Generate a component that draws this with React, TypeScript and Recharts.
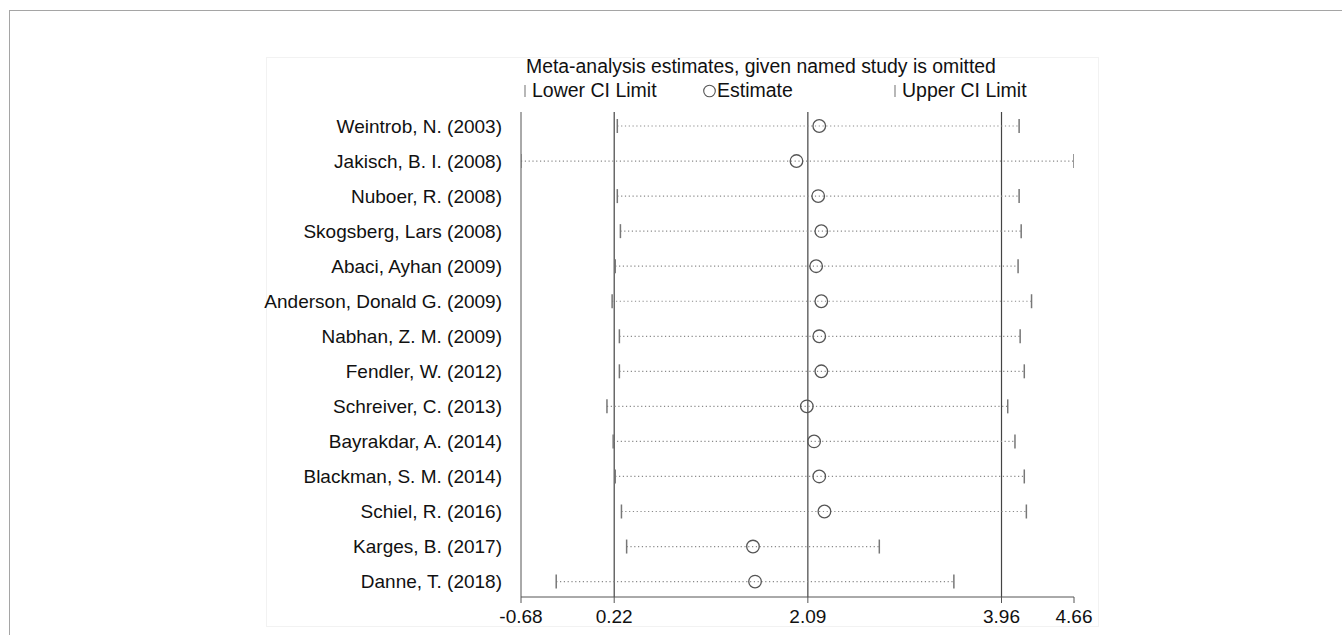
import { Legend, ReferenceLine, Scatter, ScatterChart, XAxis, YAxis } from "recharts";

const studies = [
  "Weintrob, N. (2003)",
  "Jakisch, B. I. (2008)",
  "Nuboer, R. (2008)",
  "Skogsberg, Lars (2008)",
  "Abaci, Ayhan (2009)",
  "Anderson, Donald G. (2009)",
  "Nabhan, Z. M. (2009)",
  "Fendler, W. (2012)",
  "Schreiver, C. (2013)",
  "Bayrakdar, A. (2014)",
  "Blackman, S. M. (2014)",
  "Schiel, R. (2016)",
  "Karges, B. (2017)",
  "Danne, T. (2018)",
];
const lowerCI = [0.25, -0.68, 0.25, 0.28, 0.23, 0.2, 0.27, 0.27, 0.15, 0.21, 0.23, 0.29, 0.34, -0.34];
const estimates = [2.2, 1.98, 2.19, 2.22, 2.17, 2.22, 2.2, 2.22, 2.08, 2.15, 2.2, 2.25, 1.56, 1.58];
const upperCI = [4.13, 4.66, 4.13, 4.15, 4.12, 4.25, 4.14, 4.18, 4.02, 4.09, 4.18, 4.2, 2.78, 3.5];
const xTicks = [-0.68, 0.22, 2.09, 3.96, 4.66];
const refValues = [0.22, 2.09, 3.96];
const legendNames = ["Lower CI Limit", "Estimate", "Upper CI Limit"];

const rows = studies.map((_, i) => i + 1);
const lowerData = rows.map((r, i) => ({ x: lowerCI[i], row: r }));
const estData = rows.map((r, i) => ({ x: estimates[i], row: r }));
const upperData = rows.map((r, i) => ({ x: upperCI[i], row: r }));

const FONT = "'Liberation Sans', Arial, Helvetica, sans-serif";

const TickMark = (props: any) => (
  <line x1={props.cx} x2={props.cx} y1={props.cy - 7} y2={props.cy + 7} stroke="#777" strokeWidth={1.5} />
);

const EstMark = (props: any) => (
  <circle cx={props.cx} cy={props.cy} r={6.3} fill="none" stroke="#555" strokeWidth={1.3} />
);

const LegendBox = (props: any) => {
  const items = [...(props.payload || [])].sort(
    (a: any, b: any) => legendNames.indexOf(a.value) - legendNames.indexOf(b.value)
  );
  const lefts = [524, 703, 894];
  return (
    <div style={{ position: "relative", width: 1342, height: 110, fontFamily: FONT, color: "#111" }}>
      <div style={{ position: "absolute", left: 526, top: 55, fontSize: 19.4, whiteSpace: "nowrap" }}>
        Meta-analysis estimates, given named study is omitted
      </div>
      {items.map((item: any, i: number) => (
        <div
          key={item.value}
          style={{ position: "absolute", left: lefts[i], top: 79, fontSize: 19.5, whiteSpace: "nowrap", display: "flex", alignItems: "center" }}
        >
          {item.value === "Estimate" ? (
            <svg width={13} height={14} style={{ marginRight: 1 }}>
              <circle cx={6.5} cy={7} r={5.8} fill="none" stroke="#555" strokeWidth={1.1} />
            </svg>
          ) : (
            <svg width={7} height={14} style={{ marginRight: 1 }}>
              <line x1={1} x2={1} y1={1} y2={13} stroke="#888" strokeWidth={1.2} />
            </svg>
          )}
          <span>{item.value}</span>
        </div>
      ))}
    </div>
  );
};

export default function App() {
  return (
    <div style={{ position: "absolute", left: 0, top: 0, width: 1342, height: 635, background: "#fff", overflow: "hidden" }}>
      <div style={{ position: "absolute", left: 9, top: 10, width: 1340, height: 630, borderTop: "1.5px solid #a5a5a5", borderLeft: "1.5px solid #a5a5a5" }} />
      <div style={{ position: "absolute", left: 266, top: 57, width: 831, height: 568, border: "1px solid #f2f2f2" }} />
      <div style={{ position: "absolute", left: 0, top: 0 }}>
        <ScatterChart
          width={1342}
          height={635}
          margin={{ top: 112, right: 268, bottom: 8, left: 321 }}
          style={{ fontFamily: FONT }}
        >
          <XAxis
            type="number"
            dataKey="x"
            domain={[-0.68, 4.66]}
            ticks={xTicks}
            interval={0}
            tickFormatter={(v: number) => v.toFixed(2)}
            tickSize={6}
            tickMargin={7}
            height={30}
            stroke="#555"
            tick={{ fill: "#111", fontSize: 19 }}
            allowDataOverflow
          />
          <YAxis
            type="number"
            dataKey="row"
            domain={[0.6, 14.44]}
            reversed
            ticks={rows}
            interval={0}
            tickFormatter={(v: number) => studies[v - 1]}
            tickLine={false}
            tickMargin={13}
            width={200}
            stroke="#555"
            tick={{ fill: "#111", fontSize: 19 }}
            allowDataOverflow
          />
          {refValues.map((v) => (
            <ReferenceLine key={"ref" + v} x={v} stroke="#444" strokeWidth={1.2} />
          ))}
          {rows.map((r, i) => (
            <ReferenceLine
              key={"seg" + r}
              segment={[
                { x: lowerCI[i], y: r },
                { x: upperCI[i], y: r },
              ]}
              stroke="#8a8a8a"
              strokeWidth={1.2}
              strokeDasharray="1.2 2.6"
            />
          ))}
          <Scatter name="Lower CI Limit" data={lowerData} shape={TickMark} isAnimationActive={false} />
          <Scatter name="Estimate" data={estData} shape={EstMark} isAnimationActive={false} />
          <Scatter name="Upper CI Limit" data={upperData} shape={TickMark} isAnimationActive={false} />
          <Legend
            layout="horizontal"
            verticalAlign="middle"
            align="center"
            content={LegendBox}
            wrapperStyle={{ top: 0, left: 0, width: 1342, height: 110 }}
          />
        </ScatterChart>
      </div>
    </div>
  );
}
